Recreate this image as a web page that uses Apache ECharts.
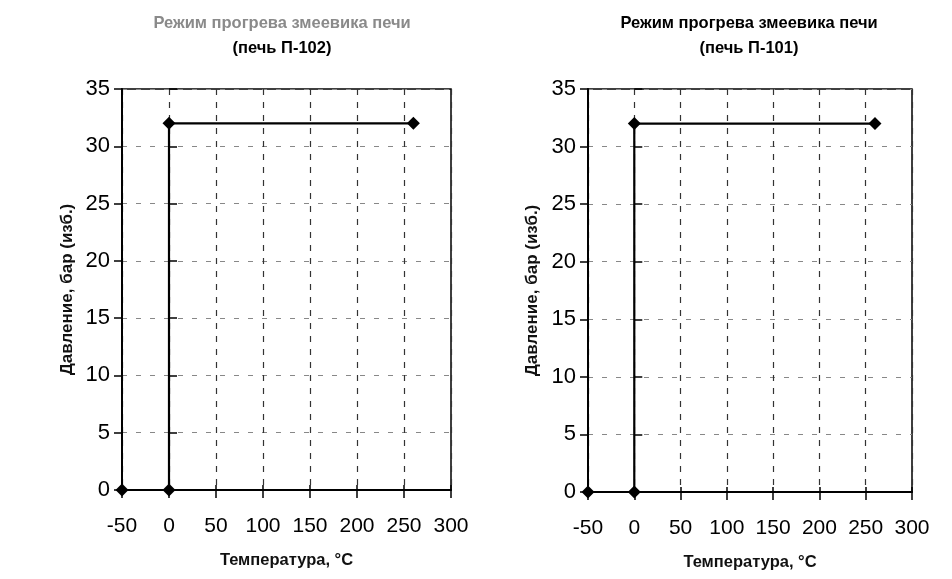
<!DOCTYPE html>
<html>
<head>
<meta charset="utf-8">
<script src="https://cdn.jsdelivr.net/npm/echarts@6/dist/echarts.min.js"></script>
<style>
html,body{margin:0;padding:0;background:#fff;}
#c{width:952px;height:579px;}
</style>
</head>
<body>
<div id="c"></div>
<script>
// Data
const temps102 = [-50, 0, 0, 260];
const press102 = [0, 0, 32, 32];
const temps101 = [-50, 0, 0, 260];
const press101 = [0, 0, 32, 32];
const titleLine1 = 'Режим прогрева змеевика печи';
const titleLeft2 = '(печь П-102)';
const titleRight2 = '(печь П-101)';
const xName = 'Температура, °C';
const yName = 'Давление, бар (изб.)';

const FONT = '"Liberation Sans", Arial, sans-serif';
const grids = [
  {left: 122, right: 501, top: 89, bottom: 89},
  {left: 588, right: 40, top: 89, bottom: 87}
];

function xAxisMain(gi) {
  return {
    type: 'value', gridIndex: gi, min: -50, max: 300, interval: 50,
    position: 'bottom',
    name: xName, nameLocation: 'middle', nameGap: 62,
    nameTextStyle: {fontFamily: FONT, fontWeight: 'bold', fontSize: 16.5, color: '#111'},
    axisLine: {show: true, onZero: false, lineStyle: {color: '#000', width: 2}},
    axisTick: {show: true, length: 8, lineStyle: {color: '#000', width: 1.5}},
    axisLabel: {fontFamily: FONT, fontSize: 21, color: '#000', margin: 26},
    splitLine: {show: true, lineStyle: {color: '#333', width: 1.2, type: [6, 7]}}
  };
}
function xAxisDup(gi) {
  return {
    type: 'value', gridIndex: gi, min: -50, max: 300, interval: 50,
    position: 'bottom', offset: 0,
    axisLine: {show: false}, axisLabel: {show: false}, splitLine: {show: false},
    axisTick: {show: true, inside: true, length: 5, lineStyle: {color: '#000', width: 1.5}}
  };
}
function yAxisMain(gi, gap) {
  return {
    type: 'value', gridIndex: gi, min: 0, max: 35, interval: 5,
    position: 'left',
    name: yName, nameLocation: 'middle', nameGap: gap, nameRotate: 90,
    nameTextStyle: {fontFamily: FONT, fontWeight: 'bold', fontSize: 17, color: '#111'},
    axisLine: {show: true, onZero: false, lineStyle: {color: '#000', width: 2}},
    axisTick: {show: true, length: 8, lineStyle: {color: '#000', width: 1.5}},
    axisLabel: {fontFamily: FONT, fontSize: 22, color: '#000', margin: 12},
    splitLine: {show: true, lineStyle: {color: '#888', width: 1.2, type: [5, 9]}}
  };
}
function yAxisDup(gi) {
  return {
    type: 'value', gridIndex: gi, min: 0, max: 35, interval: 5,
    position: 'left', offset: 0,
    axisLine: {show: false}, axisLabel: {show: false}, splitLine: {show: false},
    axisTick: {show: true, inside: true, length: 8, lineStyle: {color: '#000', width: 1.5}}
  };
}
function seriesFor(xs, ys, xi, yi) {
  return {
    type: 'line', xAxisIndex: xi, yAxisIndex: yi,
    data: xs.map((x, i) => [x, ys[i]]),
    symbol: 'diamond', symbolSize: 13,
    itemStyle: {color: '#000'},
    lineStyle: {color: '#000', width: 2.2},
    animation: false, z: 5
  };
}

const chart = echarts.init(document.getElementById('c'), null, {renderer: 'canvas'});
chart.setOption({
  backgroundColor: '#fff',
  animation: false,
  title: [
    {
      text: '{g|' + titleLine1 + '}\n{b|' + titleLeft2 + '}',
      left: 277, top: 6, textAlign: 'center',
      textStyle: {rich: {
        g: {fontFamily: FONT, fontWeight: 'bold', fontSize: 16.5, color: '#8a8a8a', lineHeight: 25},
        b: {fontFamily: FONT, fontWeight: 'bold', fontSize: 16.5, color: '#000', lineHeight: 25}
      }}
    },
    {
      text: '{b|' + titleLine1 + '}\n{b|' + titleRight2 + '}',
      left: 744, top: 6, textAlign: 'center',
      textStyle: {rich: {
        b: {fontFamily: FONT, fontWeight: 'bold', fontSize: 16.5, color: '#000', lineHeight: 25}
      }}
    }
  ],
  grid: grids.map(g => Object.assign({show: true, borderColor: '#000', borderWidth: 1.5, backgroundColor: 'transparent'}, g)),
  xAxis: [xAxisMain(0), xAxisMain(1), xAxisDup(0), xAxisDup(1)],
  yAxis: [yAxisMain(0, 46), yAxisMain(1, 47), yAxisDup(0), yAxisDup(1)],
  series: [
    seriesFor(temps102, press102, 0, 0),
    seriesFor(temps101, press101, 1, 1)
  ]
});
</script>
</body>
</html>
